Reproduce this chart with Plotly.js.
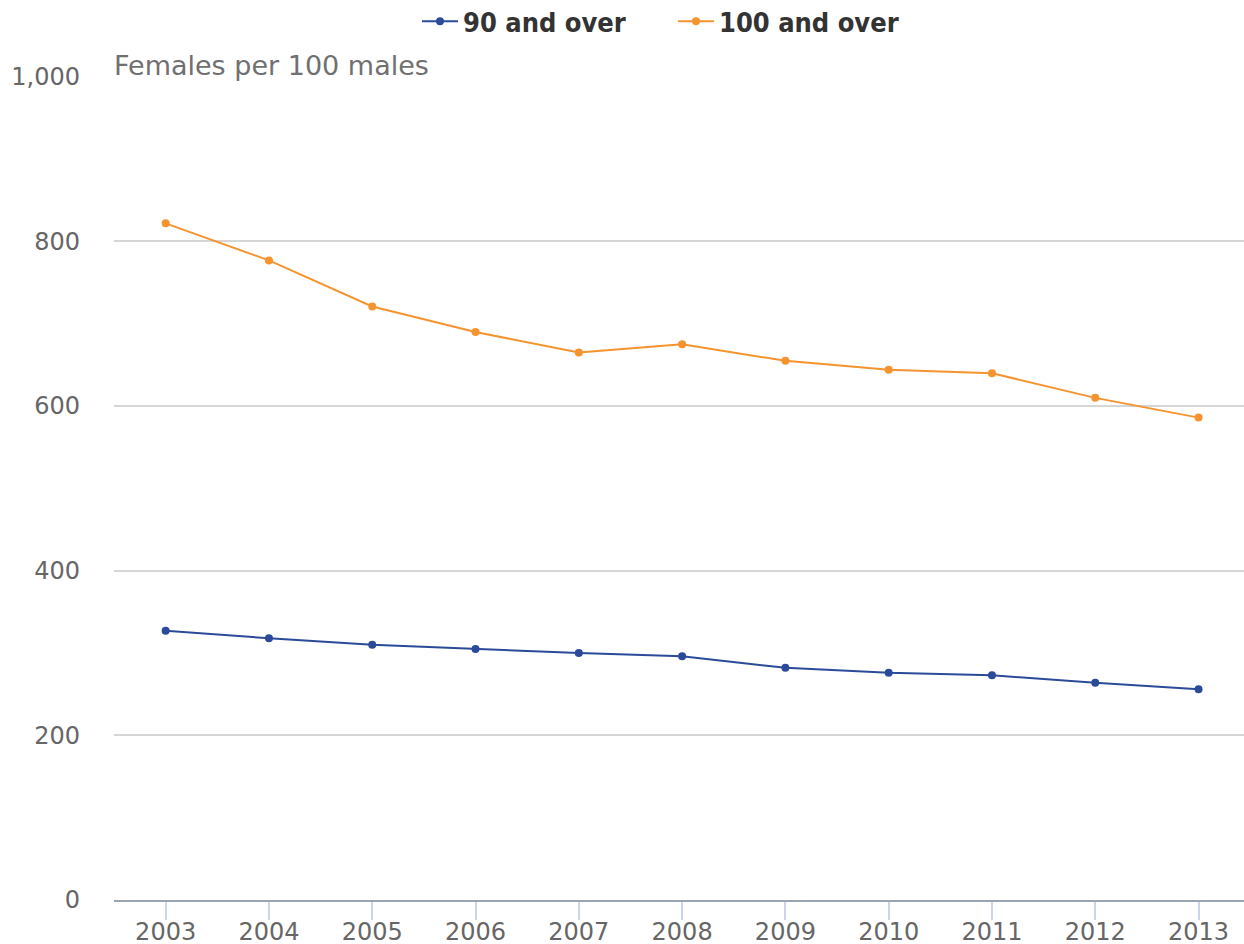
<!DOCTYPE html>
<html>
<head>
<meta charset="utf-8">
<script src="https://cdn.plot.ly/plotly-3.0.1.min.js"></script>
<style>html,body{margin:0;padding:0;background:#fff;}#chart{width:1244px;height:944px;}</style>
</head>
<body>
<div id="chart"></div>
<script>
const years = [2003, 2004, 2005, 2006, 2007, 2008, 2009, 2010, 2011, 2012, 2013];
const over90 = [327, 318, 310, 305, 300, 296, 282, 276, 273, 264, 256];
const over100 = [822, 777, 721, 690, 665, 675, 655, 644, 640, 610, 586];
const seriesNames = ["90 and over", "100 and over"];
const yTicks = [0, 200, 400, 600, 800, 1000];

const traces = [
  {x: years, y: over90, name: seriesNames[0], type: 'scatter', mode: 'lines+markers',
   line: {color: '#2b4a9a', width: 2}, marker: {color: '#2b4a9a', size: 8}},
  {x: years, y: over100, name: seriesNames[1], type: 'scatter', mode: 'lines+markers',
   line: {color: '#f5942f', width: 2}, marker: {color: '#f5942f', size: 8}}
];

const layout = {
  width: 1244, height: 944,
  margin: {l: 114, r: 0, t: 76, b: 44},
  paper_bgcolor: '#fff', plot_bgcolor: '#fff',
  font: {family: 'DejaVu Sans, sans-serif', color: '#666'},
  showlegend: true,
  legend: {orientation: 'h', xref: 'container', yref: 'container', x: 417 / 1244, xanchor: 'left',
           y: 0.977, yanchor: 'middle',
           font: {family: 'DejaVu Sans Condensed, DejaVu Sans, sans-serif', size: 27, color: '#333', weight: 'bold'},
           itemwidth: 36, entrywidth: 205, entrywidthmode: 'pixels', tracegroupgap: 0},
  title: {text: 'Females per 100 males', x: 114 / 1244, xref: 'container', xanchor: 'left',
          y: 1 - 66 / 944, yref: 'container', yanchor: 'middle',
          font: {family: 'DejaVu Sans, sans-serif', size: 27, color: '#707070'}},
  xaxis: {range: [2002.5, 2013.44], tickmode: 'array', tickvals: years, ticktext: years.map(String),
          showgrid: false, zeroline: false, showline: true, linecolor: '#9aa3b3', linewidth: 2,
          ticks: 'outside', ticklen: 18, tickcolor: '#ccd6eb', tickwidth: 2, ticklabelstandoff: -9,
          tickfont: {size: 24, color: '#666'}, fixedrange: true},
  yaxis: {range: [0, 1001], tickmode: 'array', tickvals: yTicks, tickformat: ',',
          showgrid: true, gridcolor: '#d6d6d6', gridwidth: 2, zeroline: false,
          showline: false, ticks: '', ticklabelstandoff: 33,
          tickfont: {size: 24, color: '#666'}, fixedrange: true}
};

Plotly.newPlot('chart', traces, layout, {displayModeBar: false, staticPlot: true});
</script>
</body>
</html>
